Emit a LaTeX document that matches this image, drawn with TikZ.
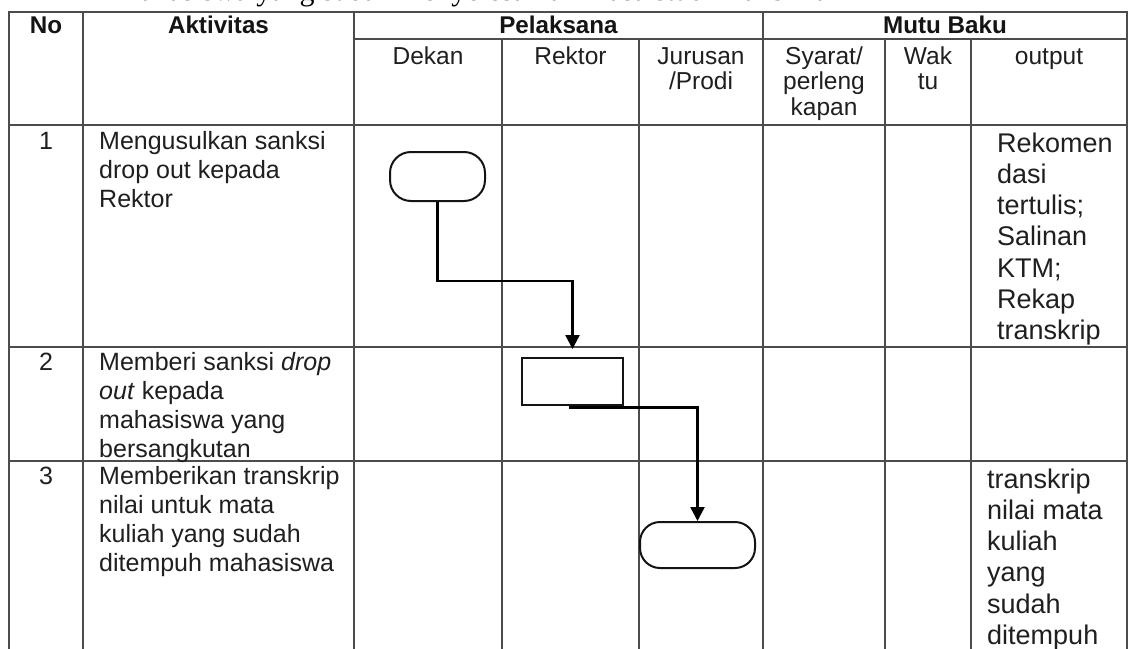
\documentclass[tikz,border=0pt]{standalone}
\usepackage{fontspec}
\setmainfont{Liberation Sans}
\newfontfamily\titleserif{Liberation Serif}
\usetikzlibrary{arrows.meta}

% multi-line cell texts; [t] keeps the first line on the node's baseline
\newcommand\cstack[2]{\parbox[t]{#1}{\centering #2}}
\newcommand\lstack[2]{\parbox[t]{#1}{\raggedright #2}}

\begin{document}
\begin{tikzpicture}[x=1pt,y=-1pt,
  rule/.style={line width=2.1pt, draw=black!70, line cap=rect},
  flow/.style={line width=2.4pt, draw=black, -{Triangle[width=14pt,length=14pt]}},
  term/.style={draw=black!92, line width=2pt, rounded corners=21pt, inner sep=0, fill=white},
  proc/.style={draw=black!92, line width=2pt, inner sep=0, fill=white},
  hd/.style={anchor=base, inner sep=0, text=black!92, font=\fontsize{24.2}{26}\selectfont\bfseries},
  sub/.style={anchor=base, inner sep=0, text=black!88, font=\fontsize{24.5}{25.5}\selectfont},
  num/.style={anchor=base, inner sep=0, text=black!88, font=\fontsize{25}{29}\selectfont},
  act/.style={anchor=base west, inner sep=0, text=black!88, font=\fontsize{25}{29}\selectfont},
  outp/.style={anchor=base west, inner sep=0, text=black!88, font=\fontsize{27}{31.3}\selectfont}
]
\useasboundingbox (0,0) rectangle (1132,648);
\fill[white] (0,0) rectangle (1132,648);

% heading line of the page, cut by the top edge
\node[anchor=base west, inner sep=0, font=\titleserif\fontsize{30}{32}\selectfont] (pagehead) at (117,0)
  {mahasiswa yang sudah menyelesaikan masa studi maksimal};

% table rules
\draw[rule] (9,12) -- (1127,12);
\draw[rule] (354,39) -- (1127,39);
\draw[rule] (9,125) -- (1127,125);
\draw[rule] (9,347) -- (1127,347);
\draw[rule] (9,461) -- (1127,461);
\foreach \x in {9,83,354,763,1127} \draw[rule] (\x,12) -- (\x,652);
\foreach \x in {502,639,885,971} \draw[rule] (\x,39) -- (\x,652);

% header
\node[hd] (hNo) at (46,33) {No};
\node[hd] (hAkt) at (218.5,33) {Aktivitas};
\node[hd] (hPel) at (558.5,33) {Pelaksana};
\node[hd] (hMutu) at (945,33) {Mutu Baku};
\node[sub] (hDekan) at (428,64) {Dekan};
\node[sub] (hRektor) at (570.5,64) {Rektor};
\node[sub] (hJur) at (701,64) {\cstack{120pt}{Jurusan\\/Prodi}};
\node[sub] (hSyarat) at (824,64) {\cstack{120pt}{Syarat/\\perleng\\kapan}};
\node[sub] (hWaktu) at (928,64) {\cstack{80pt}{Wak\\tu}};
\node[sub] (hOut) at (1049,64) {output};

% row 1
\node[num] (n1) at (46,149) {1};
\node[act] (a1) at (99,149) {\lstack{250pt}{Mengusulkan sanksi\\drop out kepada\\Rektor}};
\node[outp] (o1) at (997,152) {\lstack{130pt}{Rekomen\\dasi\\tertulis;\\Salinan\\KTM;\\Rekap\\transkrip}};

% row 2
\node[num] (n2) at (46,370) {2};
\node[act] (a2) at (99,370) {\lstack{250pt}{Memberi sanksi \textit{drop}\\\textit{out} kepada\\mahasiswa yang\\bersangkutan}};

% row 3
\node[num] (n3) at (46,484) {3};
\node[act] (a3) at (99,484) {\lstack{260pt}{Memberikan transkrip\\nilai untuk mata\\kuliah yang sudah\\ditempuh mahasiswa}};
\node[outp] (o3) at (987,488) {\lstack{130pt}{transkrip\\nilai mata\\kuliah\\yang\\sudah\\ditempuh}};

% flow symbols
\node[term, minimum width=95pt, minimum height=49pt] (t1) at (437.5,176.5) {};
\node[proc, minimum width=101pt, minimum height=47pt] (p2) at (572.5,381.5) {};
\node[term, minimum width=115pt, minimum height=46pt, rounded corners=20pt] (t3) at (697.5,545) {};

% connectors
\draw[flow, shorten >=8pt] (t1.south) -- ++(0,79) -| (p2.north);
\draw[flow] (p2.south) ++(-4,1.5) -| (t3.north);
\end{tikzpicture}
\end{document}
